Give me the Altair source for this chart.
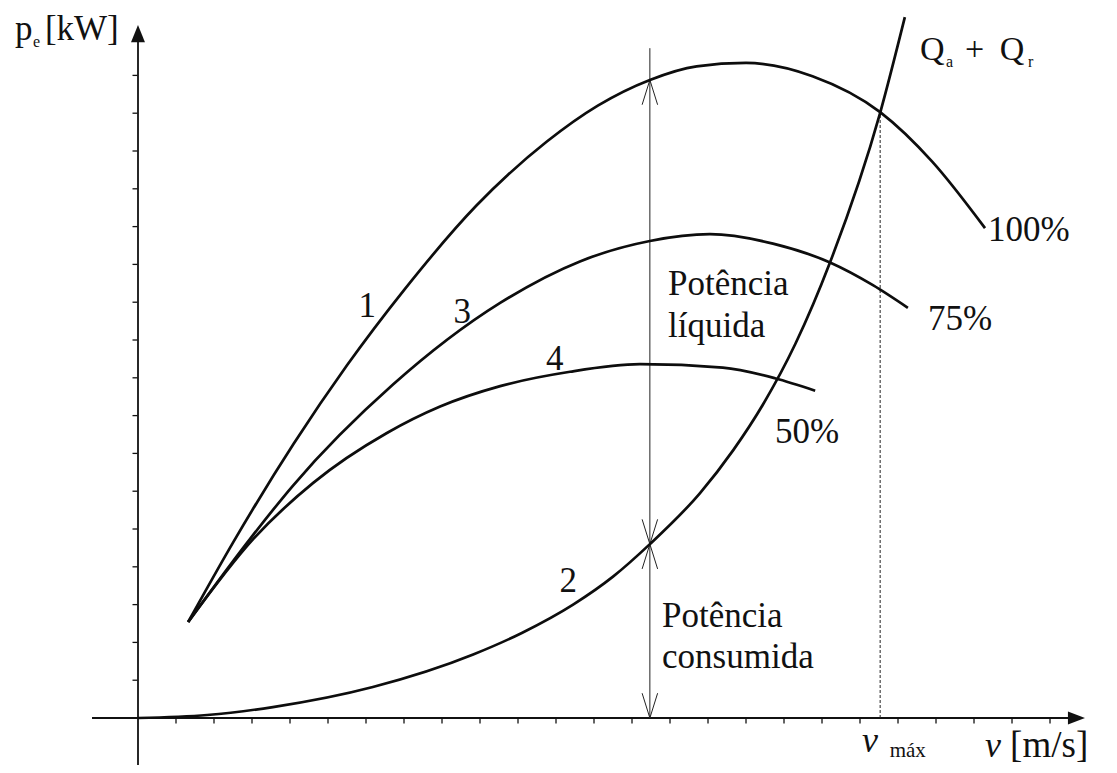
import altair as alt
import pandas as pd

# ---------------- data (1 axis tick = 1 unit) ----------------
# curve 1 : 100 % load
curve1_v = [1.32, 2.50, 4.10, 5.50, 7.00, 8.90, 10.76, 12.10, 13.47, 14.70, 16.00, 17.75, 19.53, 20.90, 22.29]
curve1_p = [2.54, 4.64, 7.26, 9.33, 11.32, 13.55, 15.25, 16.20, 16.88, 17.24, 17.33, 16.98, 16.03, 14.72, 12.96]
# curve 3 : 75 % load
curve3_v = [1.32, 2.95, 4.08, 6.71, 9.53, 11.63, 13.47, 15.05, 16.71, 18.21, 19.34, 20.26]
curve3_p = [2.54, 4.74, 6.15, 8.82, 10.98, 12.08, 12.62, 12.80, 12.55, 12.05, 11.45, 10.85]
# curve 4 : 50 % load
curve4_v = [1.32, 3.03, 4.61, 6.55, 7.95, 9.53, 11.37, 13.21, 15.39, 16.76, 17.82]
curve4_p = [2.54, 4.73, 6.22, 7.54, 8.24, 8.78, 9.16, 9.36, 9.27, 8.99, 8.66]
# curve 2 : Qa + Qr (resistances)
curve2_v = [0.00, 1.82, 3.55, 6.18, 8.82, 10.10, 11.45, 12.50, 13.47, 14.79, 15.66, 16.45, 17.30, 18.21, 19.53, 20.18]
curve2_p = [0.00, 0.08, 0.29, 0.82, 1.68, 2.25, 3.00, 3.74, 4.60, 5.95, 7.08, 8.30, 9.90, 12.05, 16.01, 18.54]

x_ticks = list(range(1, 25))
y_ticks = list(range(1, 18))

v_ref = 13.47          # speed of the dimension arrows
p_ref_top = 16.88      # curve 1 at v_ref
p_ref_mid = 4.60       # curve 2 at v_ref
p_ref_line_top = 17.72
v_max = 19.53          # intersection curve 1 / curve 2
p_vmax = 16.03

# ---------------- styling ----------------
FONT = "Liberation Serif"
INK = "#111111"
W, H = 1100, 757
xs = alt.Scale(domain=[-3.421, 25.526], nice=False, zero=False)
ys = alt.Scale(domain=[-1.243, 18.783], nice=False, zero=False)


def X(f="v"):
    return alt.X(f"{f}:Q", scale=xs, axis=None)


def Y(f="p"):
    return alt.Y(f"{f}:Q", scale=ys, axis=None)


# ---------------- curves ----------------
rows = []
for name, vs, ps in [("1", curve1_v, curve1_p), ("3", curve3_v, curve3_p),
                     ("4", curve4_v, curve4_p), ("2", curve2_v, curve2_p)]:
    for i, (v, p) in enumerate(zip(vs, ps)):
        rows.append({"curve": name, "v": v, "p": p, "i": i})
curves_df = pd.DataFrame(rows)

curves = alt.Chart(curves_df).mark_line(
    interpolate="monotone", strokeWidth=2.7, color="#0d0d0d"
).encode(x=X(), y=Y(), detail="curve:N", order="i:Q")

# ---------------- axes ----------------
axis_df = pd.DataFrame({"v": [-1.21, 0.0], "v2": [24.8, 0.0], "p": [0.0, -1.3], "p2": [0.0, 18.1]})
axes = alt.Chart(axis_df).mark_rule(strokeWidth=1.8, color=INK).encode(
    x=X(), x2="v2:Q", y=Y(), y2="p2:Q")

ARROW_UP = "M0,0L0.45,1.1L-0.45,1.1Z"
ARROW_RIGHT = "M0,0L-1.1,-0.42L-1.1,0.42Z"
up_tip = alt.Chart(pd.DataFrame({"v": [0.0], "p": [18.33]})).mark_point(
    shape=ARROW_UP, filled=True, size=961, opacity=1, color=INK, strokeWidth=0
).encode(x=X(), y=Y())
right_tip = alt.Chart(pd.DataFrame({"v": [24.92], "p": [0.0]})).mark_point(
    shape=ARROW_RIGHT, filled=True, size=961, opacity=1, color=INK, strokeWidth=0
).encode(x=X(), y=Y())

xt = alt.Chart(pd.DataFrame({"v": x_ticks, "p": [0.0] * len(x_ticks)})).mark_tick(
    orient="vertical", size=5, thickness=1.3, yOffset=3, color=INK, opacity=1
).encode(x=X(), y=Y())
yt = alt.Chart(pd.DataFrame({"v": [0.0] * len(y_ticks), "p": y_ticks})).mark_tick(
    orient="horizontal", size=5, thickness=1.3, xOffset=-3, color=INK, opacity=1
).encode(x=X(), y=Y())

# ---------------- reference lines ----------------
dim_line = alt.Chart(pd.DataFrame({"v": [v_ref], "p": [0.0], "p2": [p_ref_line_top]})).mark_rule(
    strokeWidth=1, color="#222222").encode(x=X(), y=Y(), y2="p2:Q")
vmax_line = alt.Chart(pd.DataFrame({"v": [v_max], "p": [0.0], "p2": [p_vmax]})).mark_rule(
    strokeWidth=1, color="#222222", strokeDash=[3, 2]).encode(x=X(), y=Y(), y2="p2:Q")

V_UP = "M-0.5,1.6L0,0L0.5,1.6"
V_DOWN = "M-0.5,-1.6L0,0L0.5,-1.6"
heads_up = alt.Chart(pd.DataFrame({"v": [v_ref, v_ref], "p": [p_ref_top, p_ref_mid]})).mark_point(
    shape=V_UP, filled=False, size=961, strokeWidth=1, color="#222222", opacity=1
).encode(x=X(), y=Y())
heads_down = alt.Chart(pd.DataFrame({"v": [v_ref, v_ref], "p": [p_ref_mid, 0.0]})).mark_point(
    shape=V_DOWN, filled=False, size=961, strokeWidth=1, color="#222222", opacity=1
).encode(x=X(), y=Y())

# ---------------- texts ----------------
def text_layer(texts, vs, ps, size, align="left", style="normal"):
    df = pd.DataFrame({"t": texts, "v": vs, "p": ps})
    return alt.Chart(df).mark_text(
        font=FONT, fontSize=size, align=align, baseline="alphabetic",
        fontStyle=style, color=INK
    ).encode(x=X(), y=Y(), text="t:N")


num_labels = text_layer(["1", "3", "4", "2"], [6.03, 8.53, 10.97, 11.32],
                        [10.61, 10.45, 9.21, 3.33], 35, align="center")
main_labels = text_layer(
    ["100%", "75%", "50%", "Potência", "líquida", "Potência", "consumida"],
    [22.37, 20.79, 16.76, 13.95, 13.95, 13.79, 13.79],
    [12.62, 10.26, 7.28, 11.19, 10.08, 2.41, 1.32], 35)
q_labels = text_layer(["Q", "+", "Q"], [20.58, 21.76, 22.68], [17.41, 17.41, 17.41], 34)
q_subs = text_layer(["a", "r"], [21.26, 23.42], [17.22, 17.22], 16)
p_label = text_layer(["p", "[kW]"], [-3.24, -2.45], [17.94, 17.94], 35)
p_sub = text_layer(["e"], [-2.76], [17.75], 16)
v_italic = text_layer(["v", "v"], [19.05, 22.29], [-0.90, -1.03], 36, style="italic")
v_sub = text_layer(["máx"], [19.78], [-1.03], 21)
v_unit = text_layer(["[m/s]"], [22.95], [-1.03], 37)

chart = alt.layer(
    axes, xt, yt, up_tip, right_tip, dim_line, vmax_line, heads_up, heads_down,
    curves, num_labels, main_labels, q_labels, q_subs, p_label, p_sub,
    v_italic, v_sub, v_unit
).properties(
    width=W, height=H, autosize=alt.AutoSizeParams(type="none"), padding=0
).configure_view(strokeWidth=0)

chart.save("out.html", embed_options={"renderer": "svg", "actions": False})
